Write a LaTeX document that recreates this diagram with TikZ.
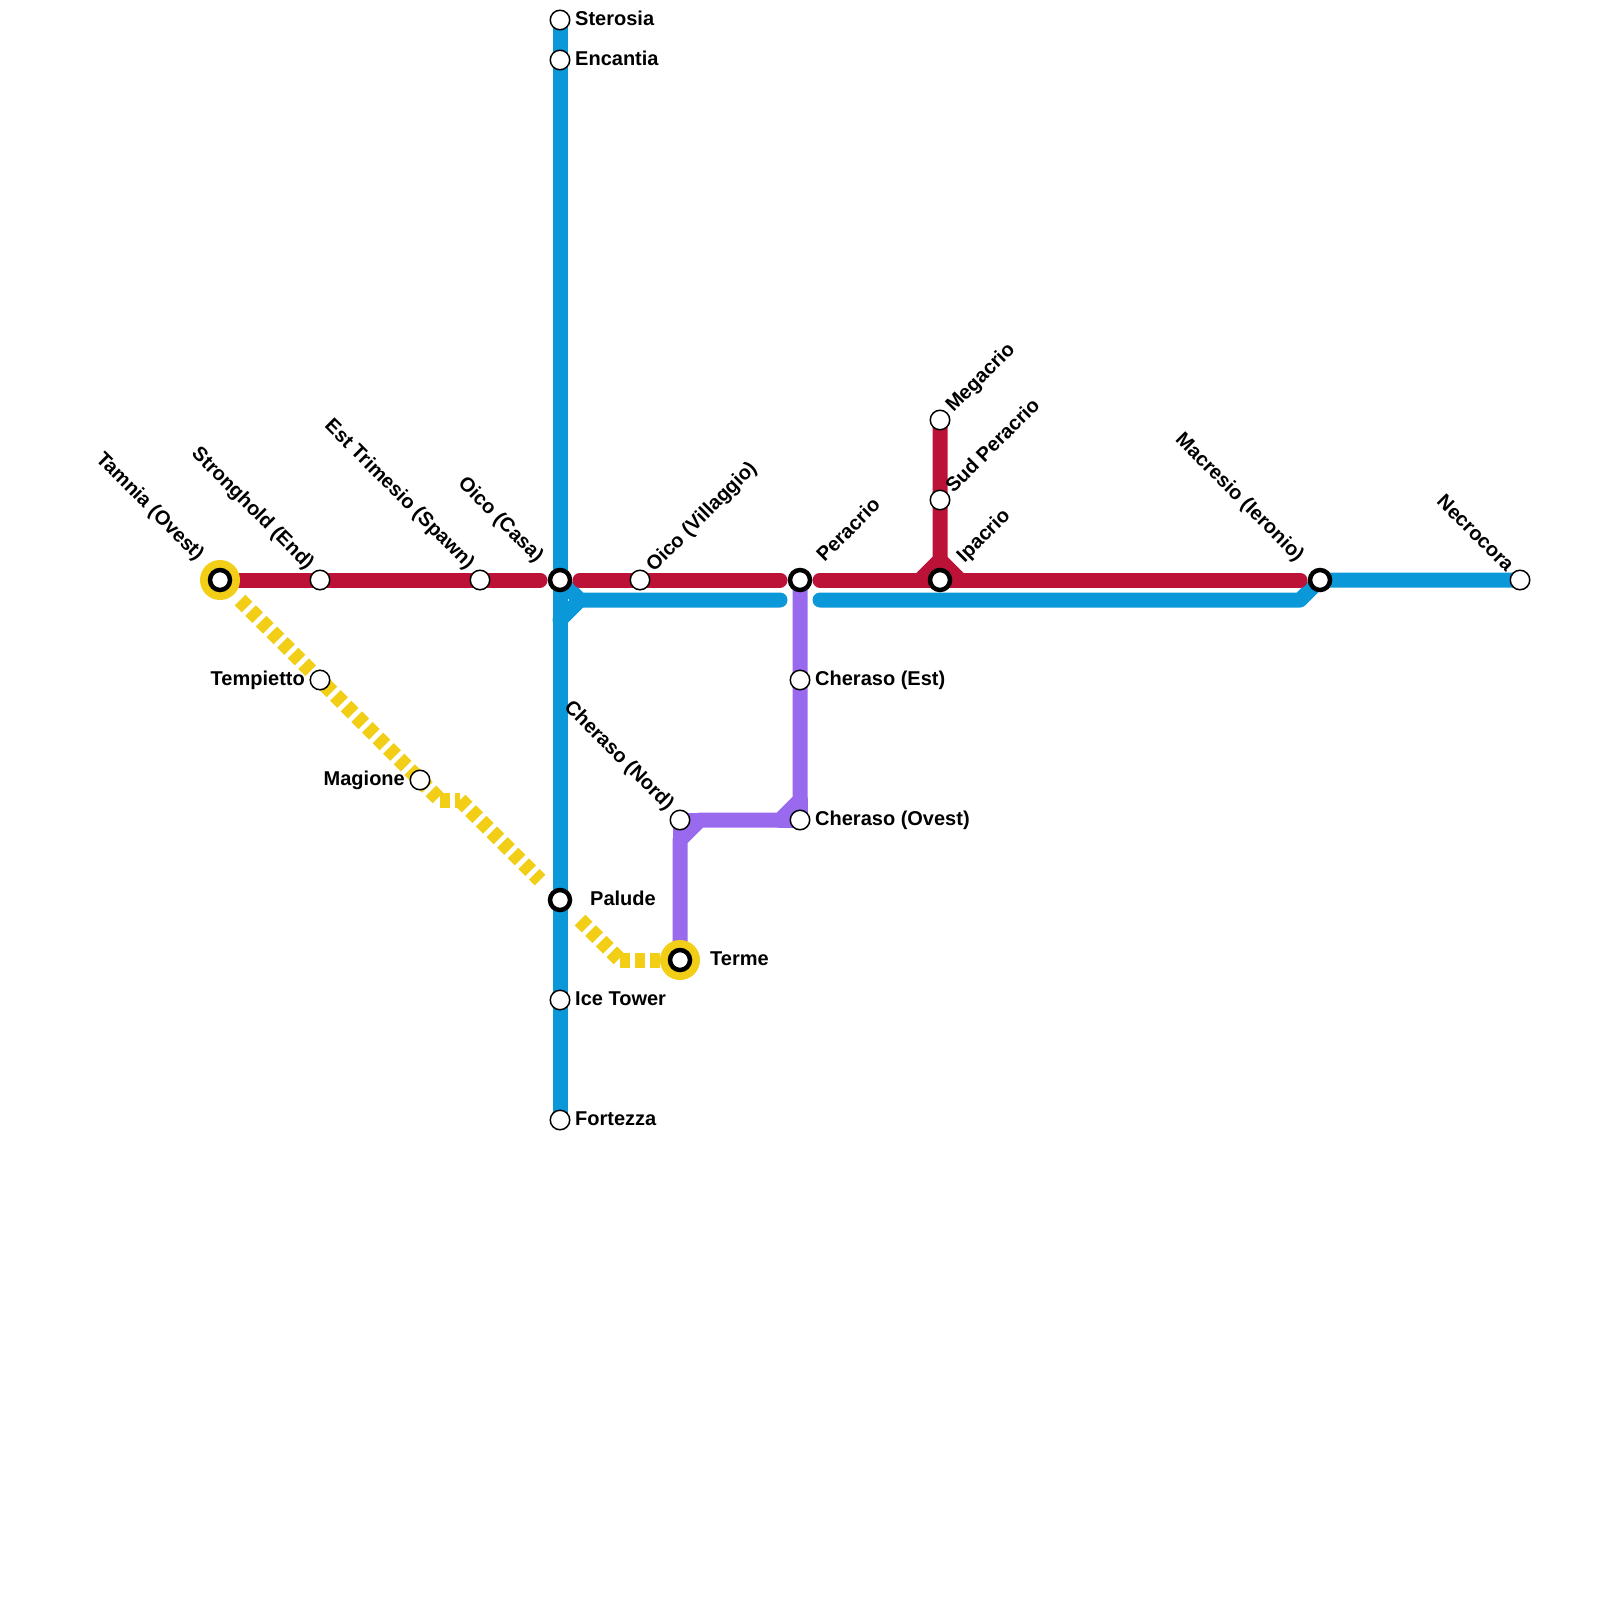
\documentclass[tikz,border=0pt]{standalone}
\usepackage{fontspec}
\setmainfont{Liberation Sans}[BoldFont={Liberation Sans Bold}]
\usetikzlibrary{backgrounds}
\definecolor{lblue}{HTML}{0A98D9}
\definecolor{lred}{HTML}{BC1238}
\definecolor{lpurple}{HTML}{9A6AEE}
\definecolor{lyellow}{HTML}{F2CE17}
\tikzset{
  stn/.style={circle,draw=black,fill=white,line width=1.5pt,minimum size=19.5pt,inner sep=0pt},
  hub/.style={circle,draw=black,fill=white,line width=4.5pt,minimum size=20pt,inner sep=0pt},
  halo/.style={circle,fill=lyellow,minimum size=40pt,inner sep=0pt},
  linebase/.style={line width=15pt,line join=round},
  bluel/.style={linebase,draw=lblue,line cap=round},
  redl/.style={linebase,draw=lred,line cap=round},
  purplel/.style={linebase,draw=lpurple,line cap=round},
  yellowl/.style={linebase,draw=lyellow,line join=miter,dash pattern=on 10pt off 5pt},
  lab/.style={font=\fontsize{20}{20}\selectfont\bfseries,inner sep=0pt,text=black},
  labup/.style={lab,rotate=45,anchor=base west},
  labdown/.style={lab,rotate=-45,anchor=base east},
  labr/.style={lab,anchor=base west},
  labl/.style={lab,anchor=base east}
}
\begin{document}
\begin{tikzpicture}[x=1pt,y=-1pt]
\useasboundingbox (0,0) rectangle (1600,1600);
% stations
\node[stn] (sterosia) at (560,20) {};
\node[stn] (encantia) at (560,60) {};
\node[hub] (oico) at (560,580) {};
\node[hub] (palude) at (560,900) {};
\node[stn] (ice) at (560,1000) {};
\node[stn] (fortezza) at (560,1120) {};
\node[hub] (tamnia) at (220,580) {};
\node[stn] (stronghold) at (320,580) {};
\node[stn] (tempietto) at (320,680) {};
\node[stn] (magione) at (420,780) {};
\node[stn] (trimesio) at (480,580) {};
\node[stn] (villaggio) at (640,580) {};
\node[hub] (peracrio) at (800,580) {};
\node[stn] (megacrio) at (940,420) {};
\node[stn] (sud) at (940,500) {};
\node[hub] (ipacrio) at (940,580) {};
\node[hub] (macresio) at (1320,580) {};
\node[stn] (necrocora) at (1520,580) {};
\node[stn] (chest) at (800,680) {};
\node[stn] (chovest) at (800,820) {};
\node[stn] (chnord) at (680,820) {};
\node[hub] (terme) at (680,960) {};
% free points
\coordinate (redA) at (540,580);
\coordinate (redB) at (580,580);
\coordinate (redC) at (780,580);
\coordinate (redD) at (820,580);
\coordinate (redE) at (1300,580);
\coordinate (redF) at (940,560);
\coordinate (redG) at (920,580);
\coordinate (redH) at (960,580);
\coordinate (bluA) at (580,600);
\coordinate (bluB) at (560,620);
\coordinate (bluC) at (780,600);
\coordinate (bluD) at (820,600);
\coordinate (bluE) at (1300,600);
\coordinate (purA) at (800,800);
\coordinate (purB) at (780,820);
\coordinate (purC) at (700,820);
\coordinate (purD) at (680,840);
\coordinate (yelS) at (240,600);
\coordinate (yelA) at (440,800);
\coordinate (yelB) at (460,800);
\coordinate (yelC) at (540,880);
\coordinate (yelD) at (580,920);
\coordinate (yelE) at (620,960);
\begin{scope}[on background layer]
  \draw[yellowl] (yelS) -- (yelA);
  \draw[yellowl] (yelA) -- (yelB);
  \draw[yellowl] (yelB) -- (yelC);
  \draw[yellowl] (yelD) -- (yelE);
  \draw[yellowl] (yelE) -- (terme.center);
  \draw[purplel] (peracrio.center) -- (purA) -- (purB) -- (purC) -- (purD) -- (terme.center);
  \draw[purplel] (purA) -- (chovest.center) -- (purB);
  \draw[purplel] (purC) -- (chnord.center) -- (purD);
  \draw[bluel] (sterosia.center) -- (fortezza.center);
  \draw[bluel] (oico.center) -- (bluA) -- (bluC);
  \draw[bluel] (bluA) -- (bluB);
  \draw[bluel] (bluD) -- (bluE) -- (macresio.center) -- (necrocora.center);
  \draw[redl] (tamnia.center) -- (redA);
  \draw[redl] (redB) -- (redC);
  \draw[redl] (redD) -- (redE);
  \draw[redl] (megacrio.center) -- (redF) -- (redG);
  \draw[redl] (redF) -- (redH);
  \node[halo] at (tamnia.center) {};
  \node[halo] at (terme.center) {};
\end{scope}
% labels
\node[labr] (tSterosia) at (575,25.5) {Sterosia};
\node[labr] (tEncantia) at (575,65.5) {Encantia};
\node[labr] (tChEst) at (815,685) {Cheraso (Est)};
\node[labr] (tChOvest) at (815,825) {Cheraso (Ovest)};
\node[labr] (tIce) at (575,1005) {Ice Tower};
\node[labr] (tFortezza) at (575,1125) {Fortezza};
\node[labr] (tPalude) at (590,905) {Palude};
\node[labr] (tTerme) at (710,965) {Terme};
\node[labl] (tTempietto) at (305,685) {Tempietto};
\node[labl] (tMagione) at (405,785) {Magione};
\node[labdown] (tTamnia) at (196.5,561.5) {Tamnia (Ovest)};
\node[labdown] (tStronghold) at (306.5,570.5) {Stronghold (End)};
\node[labdown] (tTrimesio) at (467,570) {Est Trimesio (Spawn)};
\node[labdown] (tOico) at (536,563.5) {Oico (Casa)};
\node[labdown] (tNord) at (666.5,811.5) {Cheraso (Nord)};
\node[labdown] (tMacresio) at (1296.5,562.5) {Macresio (Ieronio)};
\node[labdown] (tNecrocora) at (1506,573) {Necrocora};
\node[labup] (tVillaggio) at (654,573) {Oico (Villaggio)};
\node[labup] (tPeracrio) at (824.5,563) {Peracrio};
\node[labup] (tMegacrio) at (953.5,413) {Megacrio};
\node[labup] (tSud) at (953.5,494) {Sud Peracrio};
\node[labup] (tIpacrio) at (964.5,563.5) {Ipacrio};
\end{tikzpicture}
\end{document}
